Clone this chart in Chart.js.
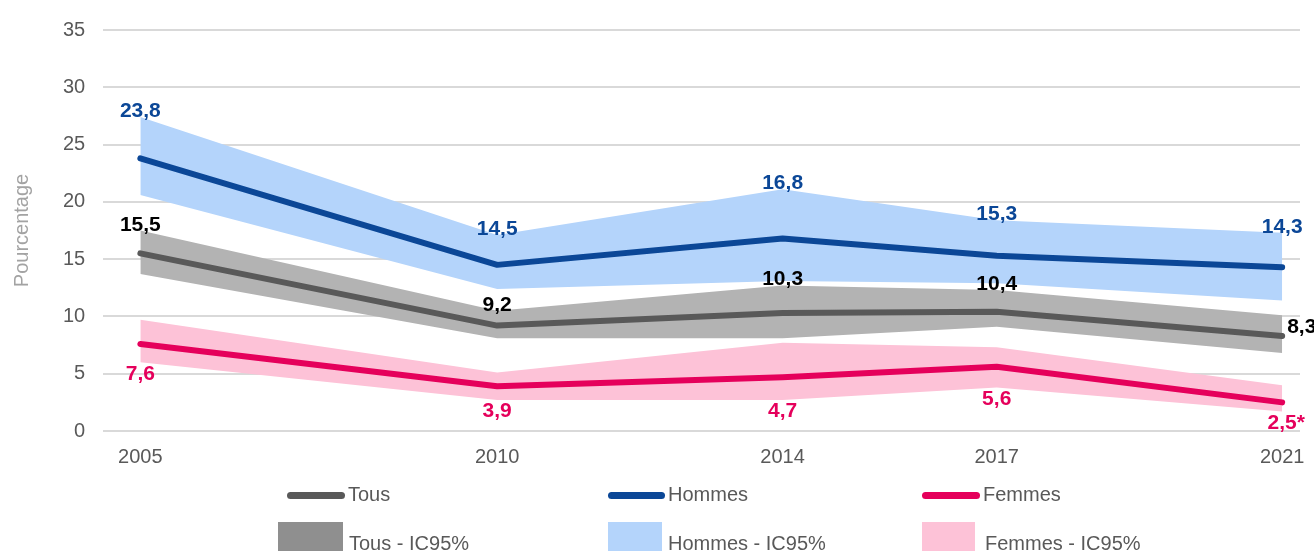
<!DOCTYPE html>
<html lang="fr">
<head>
<meta charset="utf-8">
<script src="https://cdn.jsdelivr.net/npm/chart.js@4/dist/chart.umd.min.js"></script>
<style>
  html, body { margin: 0; padding: 0; background: #fff; }
  #wrap { position: relative; width: 1314px; height: 551px; overflow: hidden; font-family: 'Liberation Sans', Arial, sans-serif; }
  #chart { position: absolute; left: 0; top: 0; }
  .sw { position: absolute; }
  .line { height: 7px; border-radius: 4px; }
  .txt { position: absolute; font-size: 20px; line-height: 24px; color: #595959; white-space: pre; }
</style>
</head>
<body>
<div id="wrap">
  <canvas id="chart" width="1314" height="551"></canvas>
  <div id="legend"></div>
</div>
<script>
// — Données
const years = [2005, 2010, 2014, 2017, 2021];

const tous = [15.5, 9.2, 10.3, 10.4, 8.3];
const tousLow = [13.7, 8.1, 8.1, 9.1, 6.8];
const tousHigh = [17.5, 10.5, 12.7, 12.3, 10.1];

const hommes = [23.8, 14.5, 16.8, 15.3, 14.3];
const hommesLow = [20.6, 12.4, 13.1, 12.9, 11.4];
const hommesHigh = [27.4, 17.1, 21.1, 18.4, 17.3];

const femmes = [7.6, 3.9, 4.7, 5.6, 2.5];
const femmesLow = [6.0, 2.7, 2.7, 3.8, 1.7];
const femmesHigh = [9.7, 5.1, 7.7, 7.3, 4.0];
const femmesNotes = ['', '', '', '', '*'];

const yTicks = [0, 5, 10, 15, 20, 25, 30, 35];

const colors = {
    tous: '#595959',
    tousBand: '#b3b3b3',
    tousSwatch: '#8f8f8f',
    hommes: '#0b4797',
    hommesBand: '#b4d4fb',
    femmes: '#e5005b',
    femmesBand: '#fdc2d7',
    text: '#595959',
    grid: '#d9d9d9'
};

const FONT = "'Liberation Sans', Arial, sans-serif";
const pts = arr => arr.map((v, i) => ({ x: years[i], y: v }));
const fmt = v => v.toFixed(1).replace('.', ',');

const band = (low, high, color) => [
    { data: pts(low), borderWidth: 0, pointRadius: 0, fill: false, order: 5 },
    { data: pts(high), borderWidth: 0, pointRadius: 0, fill: '-1', backgroundColor: color, order: 5 }
];

const line = (values, color, extra) => Object.assign({
    data: pts(values),
    borderColor: color,
    borderWidth: 6,
    borderCapStyle: 'round',
    borderJoinStyle: 'round',
    pointRadius: 0,
    tension: 0,
    fill: false,
    order: 1,
    labelColor: color
}, extra);

// — étiquettes de valeurs
const valueLabels = {
    id: 'valueLabels',
    afterDatasetsDraw(chart) {
        const ctx = chart.ctx;
        const ys = chart.scales.y;
        ctx.save();
        ctx.font = 'bold 21px ' + FONT;
        chart.data.datasets.forEach((ds, di) => {
            if (!ds.values) return;
            const meta = chart.getDatasetMeta(di);
            meta.data.forEach((pt, i) => {
                const txt = fmt(ds.values[i]);
                const pos = ds.labelAt[i];
                ctx.fillStyle = ds.labelTextColor || ds.labelColor;
                if (pos === 'right') {
                    ctx.textAlign = 'left';
                    ctx.textBaseline = 'alphabetic';
                    ctx.fillText(txt, pt.x + 5, pt.y - 3);
                    return;
                }
                ctx.textAlign = 'center';
                let y;
                if (pos === 'above') {
                    ctx.textBaseline = 'alphabetic';
                    y = ys.getPixelForValue(ds.high[i]);
                } else {
                    ctx.textBaseline = 'top';
                    y = ys.getPixelForValue(ds.low[i]) + 1;
                }
                ctx.fillText(txt, pt.x, y);
                const note = ds.notes ? ds.notes[i] : '';
                if (note) {
                    ctx.textAlign = 'left';
                    ctx.fillText(note, pt.x + ctx.measureText(txt).width / 2, y);
                }
            });
        });
        ctx.restore();
    }
};

new Chart(document.getElementById('chart').getContext('2d'), {
    type: 'line',
    data: {
        datasets: [
            ...band(hommesLow, hommesHigh, colors.hommesBand),
            ...band(tousLow, tousHigh, colors.tousBand),
            ...band(femmesLow, femmesHigh, colors.femmesBand),
            line(hommes, colors.hommes, {
                label: 'Hommes', values: hommes, low: hommesLow, high: hommesHigh,
                labelAt: ['above', 'above', 'above', 'above', 'above']
            }),
            line(tous, colors.tous, {
                label: 'Tous', values: tous, low: tousLow, high: tousHigh, labelTextColor: '#000',
                labelAt: ['above', 'above', 'above', 'above', 'right']
            }),
            line(femmes, colors.femmes, {
                label: 'Femmes', values: femmes, low: femmesLow, high: femmesHigh, notes: femmesNotes,
                labelAt: ['below', 'below', 'below', 'below', 'below']
            })
        ]
    },
    options: {
        responsive: false,
        animation: false,
        layout: { padding: { top: 29, right: 14, bottom: 76, left: 0 } },
        plugins: {
            legend: { display: false },
            tooltip: { enabled: false },
            filler: { propagate: false }
        },
        scales: {
            x: {
                type: 'linear',
                min: 2004.48,
                max: 2021.25,
                afterBuildTicks: axis => { axis.ticks = years.map(v => ({ value: v })); },
                ticks: {
                    callback: v => String(v),
                    color: colors.text,
                    font: { family: FONT, size: 20 },
                    padding: 6,
                    maxRotation: 0,
                    autoSkip: false
                },
                grid: { display: false },
                border: { display: false }
            },
            y: {
                min: 0,
                max: 35,
                afterBuildTicks: axis => { axis.ticks = yTicks.map(v => ({ value: v })); },
                ticks: {
                    color: colors.text,
                    font: { family: FONT, size: 20 },
                    padding: 18
                },
                grid: { color: colors.grid, lineWidth: 2, drawTicks: false },
                border: { display: false },
                title: {
                    display: true,
                    text: 'Pourcentage',
                    color: '#a3a3a3',
                    font: { family: FONT, size: 20 },
                    padding: { top: 10, bottom: 11 }
                }
            }
        }
    },
    plugins: [valueLabels]
});

// — légende
const legendItems = [
    { text: 'Tous', kind: 'line', color: colors.tous, sx: 287, sw: 58, tx: 348 },
    { text: 'Hommes', kind: 'line', color: colors.hommes, sx: 608, sw: 57, tx: 668 },
    { text: 'Femmes', kind: 'line', color: colors.femmes, sx: 922, sw: 58, tx: 983 },
    { text: 'Tous - IC95%', kind: 'box', color: colors.tousSwatch, sx: 278, sw: 65, tx: 349 },
    { text: 'Hommes - IC95%', kind: 'box', color: colors.hommesBand, sx: 608, sw: 54, tx: 668 },
    { text: 'Femmes - IC95%', kind: 'box', color: colors.femmesBand, sx: 922, sw: 53, tx: 985 }
];
const legend = document.getElementById('legend');
legendItems.forEach(it => {
    const sw = document.createElement('div');
    sw.className = 'sw' + (it.kind === 'line' ? ' line' : '');
    sw.style.left = it.sx + 'px';
    sw.style.width = it.sw + 'px';
    sw.style.background = it.color;
    if (it.kind === 'line') {
        sw.style.top = '492px';
    } else {
        sw.style.top = '522px';
        sw.style.height = '30px';
    }
    const t = document.createElement('div');
    t.className = 'txt';
    t.style.left = it.tx + 'px';
    t.style.top = (it.kind === 'line' ? 482 : 531) + 'px';
    t.textContent = it.text;
    legend.appendChild(sw);
    legend.appendChild(t);
});
</script>
</body>
</html>
